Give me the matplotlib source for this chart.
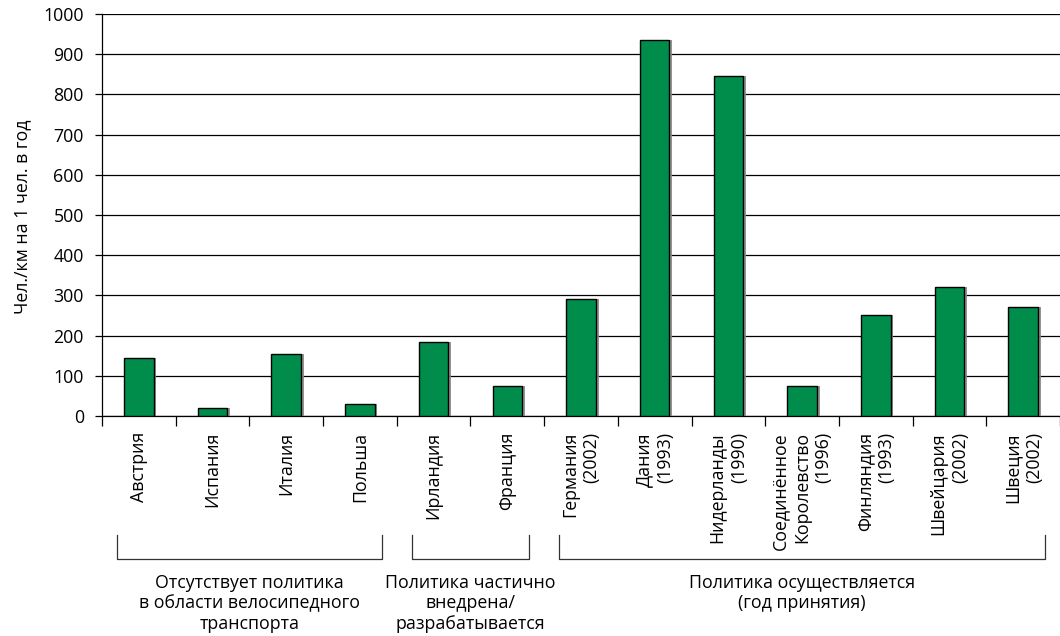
import numpy as np
import matplotlib.pyplot as plt
import matplotlib.transforms as mtransforms
from matplotlib import patheffects

plt.rcParams['font.family'] = ['Open Sans', 'DejaVu Sans']

# ---- data ----
countries = ['Австрия', 'Испания', 'Италия', 'Польша',
             'Ирландия', 'Франция',
             'Германия\n(2002)', 'Дания\n(1993)', 'Нидерланды\n(1990)',
             'Соединённое\nКоролевство\n(1996)', 'Финляндия\n(1993)',
             'Швейцария\n(2002)', 'Швеция\n(2002)']
values = [145, 20, 155, 30, 185, 75, 292, 935, 845, 75, 252, 320, 272]

group_names = ['Отсутствует политика\nв области велосипедного\nтранспорта',
               'Политика частично\nвнедрена/\nразрабатывается',
               'Политика осуществляется\n(год принятия)']
group_first = [0, 4, 6]
group_last = [3, 5, 12]

green = '#008c4b'
fs = 12.8

fig = plt.figure(figsize=(10.6, 6.36), dpi=100)
ax = fig.add_axes([102 / 1060, 220 / 636, 958 / 1060, 402 / 636])

x = np.arange(len(countries))
bars = ax.bar(x, values, width=0.4, color=green, edgecolor='black',
              linewidth=1.0, zorder=3)
for b in bars:
    b.set_path_effects([patheffects.SimplePatchShadow(offset=(2, 0), shadow_rgbFace='#888888', alpha=0.9),
                        patheffects.Normal()])

ax.set_xlim(-0.5, 12.43)
ax.set_ylim(0, 1000)
ax.set_yticks(np.arange(0, 1001, 100))
ax.yaxis.grid(True, color='black', linewidth=0.9, zorder=0)
ax.set_axisbelow(True)
for s in ['top', 'right']:
    ax.spines[s].set_visible(False)
ax.spines['left'].set_linewidth(0.9)
ax.spines['bottom'].set_linewidth(0.9)
ax.tick_params(axis='y', length=5, width=0.9, labelsize=fs, pad=8)

# ticks between categories, labels at category centres
ax.set_xticks(np.arange(-0.5, 13, 1.0))
ax.set_xticklabels([])
ax.tick_params(axis='x', length=7, width=0.9)
trans = mtransforms.blended_transform_factory(ax.transData, ax.transAxes)
for i, name in enumerate(countries):
    ax.text(i, -0.04, name, rotation=90, ha='center', va='top',
            multialignment='right', fontsize=fs, linespacing=1.25,
            transform=trans)

fig.text(22 / 1060, 1 - 217 / 636, 'Чел./км на 1 чел. в год', rotation=90,
         ha='center', va='center', fontsize=fs)

# group brackets
for name, a, b in zip(group_names, group_first, group_last):
    x0, x1 = a - 0.3, b + 0.3
    ax.plot([x0, x0, x1, x1], [-0.296, -0.356, -0.356, -0.296], color='#333333',
            linewidth=0.9, transform=trans, clip_on=False)
    ax.text((x0 + x1) / 2, -0.392, name, ha='center', va='top', fontsize=fs,
            linespacing=1.18, transform=trans)

fig.savefig('out.png', dpi=100)
